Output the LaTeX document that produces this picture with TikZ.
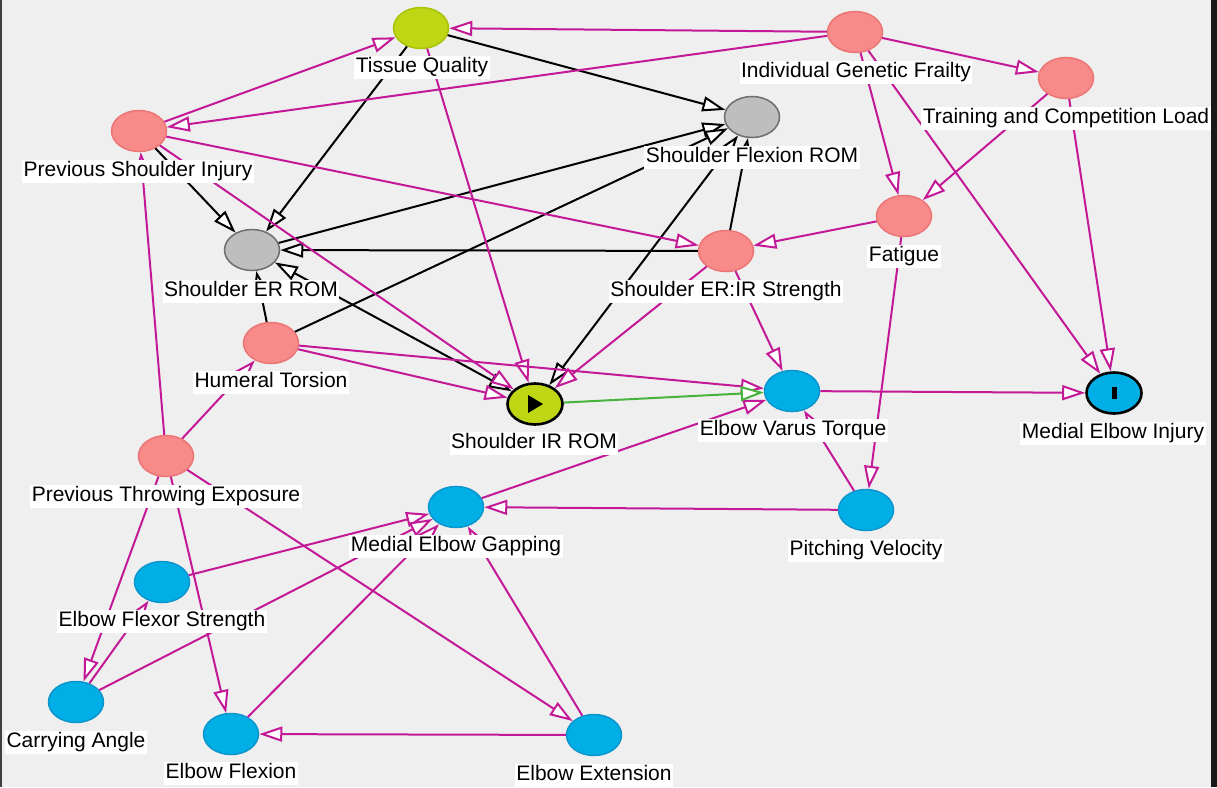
\documentclass[tikz,border=0pt]{standalone}
\usepackage{fontspec}
\setmainfont{Liberation Sans}
\usetikzlibrary{shapes.geometric,arrows.meta}
\definecolor{bg}{RGB}{239,239,239}
\definecolor{pinkfill}{RGB}{248,138,138}
\definecolor{pinkdraw}{RGB}{236,118,118}
\definecolor{grayfill}{RGB}{190,190,190}
\definecolor{graydraw}{RGB}{110,110,110}
\definecolor{bluefill}{RGB}{0,175,230}
\definecolor{bluedraw}{RGB}{10,150,205}
\definecolor{limefill}{RGB}{190,214,20}
\definecolor{limedraw}{RGB}{170,195,10}
\definecolor{mag}{RGB}{195,25,150}
\definecolor{grn}{RGB}{70,180,60}
\tikzset{
  ell/.style={ellipse, minimum width=55pt, minimum height=41pt, inner sep=0pt, line width=1.5pt},
  pk/.style={ell, fill=pinkfill, draw=pinkdraw},
  gy/.style={ell, fill=grayfill, draw=graydraw},
  bl/.style={ell, fill=bluefill, draw=bluedraw},
  lm/.style={ell, fill=limefill, draw=limedraw},
  lab/.style={fill=white, inner sep=1.5pt, text height=15.5pt, text depth=4.5pt, font=\fontsize{21}{24}\selectfont},
  tipA/.tip={Triangle[length=23pt,width=15pt,fill=white]},
  tip/.style={-tipA},
  me/.style={draw=mag, line width=2pt, tip},
  be/.style={draw=black, line width=2pt, tip},
  bb/.style={draw=black, line width=2pt, tipA-tipA},
  ge/.style={draw=grn, line width=2pt, tip},
}
\begin{document}
\begin{tikzpicture}[x=1pt,y=-1pt]
\fill[bg] (0,0) rectangle (1217,787);
\useasboundingbox (0,0) rectangle (1217,787);
\fill[black!75] (0,0) rectangle (2,787);
\fill[black!90] (1211,0) rectangle (1217,787);
% nodes
\node[lm] (TQ) at (421,28) {};
\node[pk] (IGF) at (855,32) {};
\node[pk] (TCL) at (1066,78) {};
\node[pk] (PSI) at (139,131) {};
\node[gy] (SFR) at (752,117) {};
\node[pk] (FAT) at (904,216) {};
\node[gy] (SER) at (252,250) {};
\node[pk] (SEIR) at (726,251) {};
\node[pk] (HT) at (271,343) {};
\node[lm, draw=black, line width=2.6pt] (SIR) at (535,404) {};
\node[bl] (EVT) at (792,391) {};
\node[bl, draw=black, line width=2.6pt] (MEI) at (1114,393) {};
\node[pk] (PTE) at (166,456) {};
\node[bl] (MEG) at (456,507) {};
\node[bl] (PV) at (866,510) {};
\node[bl] (EFS) at (162,582) {};
\node[bl] (CA) at (76,702) {};
\node[bl] (EF) at (231,734) {};
\node[bl] (EE) at (594,735) {};
% markers
\fill[black] ([shift={(-7,-9)}]SIR.center) -- ([shift={(8,0)}]SIR.center) -- ([shift={(-7,9)}]SIR.center) -- cycle;
\fill[black] ([shift={(-2.5,-6)}]MEI.center) rectangle ([shift={(2.5,6)}]MEI.center);
% black edges
\draw[be] (PSI) -- (SER);
\draw[be] (TQ) -- (SER);
\draw[be] (TQ) -- (SFR);
\draw[be] (SER) -- (SFR);
\draw[be] (HT) -- (SFR);
\draw[be] (SEIR) -- (SER);
\draw[be] (SEIR) -- (SFR);
\draw[be] (HT) -- (SER);
\draw[bb] (SER) -- (SIR);
\draw[bb] (SFR) -- (SIR);
% magenta edges
\draw[me] (PSI) -- (TQ);
\draw[me] (IGF) -- (TQ);
\draw[me] (IGF) -- (PSI);
\draw[me] (IGF) -- (TCL);
\draw[me] (IGF) -- (FAT);
\draw[me] (IGF) -- (MEI);
\draw[me] (TCL) -- (FAT);
\draw[me] (TCL) -- (MEI);
\draw[me] (FAT) -- (SEIR);
\draw[me] (FAT) -- (PV);
\draw[me] (PSI) -- (SEIR);
\draw[me] (PSI) -- (SIR);
\draw[me] (TQ) -- (SIR);
\draw[me] (SEIR) -- (SIR);
\draw[me] (SEIR) -- (EVT);
\draw[me] (HT) -- (SIR);
\draw[me] (HT) -- (EVT);
\draw[me] (MEG) -- (EVT);
\draw[me] (EVT) -- (MEI);
\draw[me] (PV) -- (EVT);
\draw[me] (PV) -- (MEG);
\draw[me] (PTE) -- (HT);
\draw[me] (PTE) -- (PSI);
\draw[me] (PTE) -- (CA);
\draw[me] (PTE) -- (EF);
\draw[me] (PTE) -- (EE);
\draw[me] (EFS) -- (MEG);
\draw[me] (CA) -- (MEG);
\draw[me] (EF) -- (MEG);
\draw[me] (EE) -- (EF);
\draw[me] (EE) -- (MEG);
\draw[me] (CA) -- (EFS);
% green edge
\draw[ge] (SIR) -- (EVT);
% labels
\node[lab] (lTQ) at (422,67) {Tissue Quality};
\node[lab] (lIGF) at (856,72) {Individual Genetic Frailty};
\node[lab] (lTCL) at (1066,118) {Training and Competition Load};
\node[lab] (lPSI) at (138,171) {Previous Shoulder Injury};
\node[lab] (lSFR) at (752,157) {Shoulder Flexion ROM};
\node[lab] (lFAT) at (904,256) {Fatigue};
\node[lab] (lSER) at (251,291) {Shoulder ER ROM};
\node[lab] (lSEIR) at (726,291) {Shoulder ER:IR Strength};
\node[lab] (lHT) at (271,382) {Humeral Torsion};
\node[lab] (lSIR) at (534,443) {Shoulder IR ROM};
\node[lab] (lEVT) at (793,430) {Elbow Varus Torque};
\node[lab] (lMEI) at (1113,433) {Medial Elbow Injury};
\node[lab] (lPTE) at (166,496) {Previous Throwing Exposure};
\node[lab] (lMEG) at (456,546) {Medial Elbow Gapping};
\node[lab] (lPV) at (866,550) {Pitching Velocity};
\node[lab] (lEFS) at (162,621) {Elbow Flexor Strength};
\node[lab] (lCA) at (76,742) {Carrying Angle};
\node[lab] (lEF) at (231,773) {Elbow Flexion};
\node[lab] (lEE) at (594,775) {Elbow Extension};
\end{tikzpicture}
\end{document}
